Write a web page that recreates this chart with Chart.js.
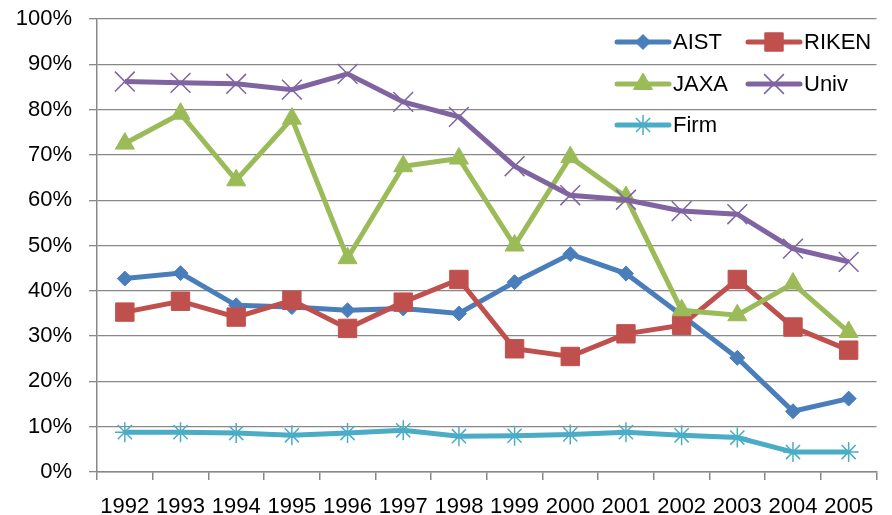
<!DOCTYPE html>
<html>
<head>
<meta charset="utf-8">
<script src="https://cdn.jsdelivr.net/npm/chart.js@4/dist/chart.umd.min.js"></script>
<style>
  html, body { margin: 0; padding: 0; background: #ffffff; }
  #wrap { width: 892px; height: 515px; }
</style>
</head>
<body>
<div id="wrap"><canvas id="chart" width="892" height="515"></canvas></div>
<script>
// Share of each organisation type, percent per year
const years = ['1992','1993','1994','1995','1996','1997','1998','1999','2000','2001','2002','2003','2004','2005'];
const aist  = [42.7, 43.9, 36.8, 36.4, 35.7, 36.1, 35.0, 41.9, 48.1, 43.8, 34.6, 25.2, 13.4, 16.2];
const riken = [35.3, 37.7, 34.2, 37.9, 31.7, 37.5, 42.5, 27.2, 25.5, 30.5, 32.4, 42.5, 32.0, 26.9];
const jaxa  = [72.5, 79.1, 64.4, 78.0, 47.2, 67.5, 69.2, 50.0, 69.5, 60.7, 35.7, 34.6, 41.6, 30.9];
const univ  = [86.2, 85.9, 85.7, 84.4, 87.9, 81.7, 78.4, 67.5, 61.1, 60.1, 57.6, 56.9, 49.3, 46.4];
const firm  = [8.8, 8.8, 8.6, 8.1, 8.6, 9.2, 7.9, 8.0, 8.3, 8.8, 8.1, 7.6, 4.4, 4.4];
const seriesNames = ['AIST', 'RIKEN', 'JAXA', 'Univ', 'Firm'];

const FONT = "'Liberation Sans', Arial, sans-serif";
const FONT_SIZE = 22;
const GRID = '#888888';

Chart.defaults.font.family = FONT;
Chart.defaults.font.size = FONT_SIZE;
Chart.defaults.color = '#000000';

function series(label, data, color, style, radius, order, markerLine) {
  return {
    label, data, order,
    borderColor: color,
    backgroundColor: color,
    borderWidth: 5,
    pointStyle: style,
    pointRadius: radius,
    pointHoverRadius: radius,
    pointBackgroundColor: color,
    pointBorderColor: color,
    pointBorderWidth: markerLine,
    tension: 0,
    fill: false
  };
}

const datasets = [
  series(seriesNames[0], aist,  '#4A7EBB', 'rectRot',  7.5, 5, 1),
  series(seriesNames[1], riken, '#C0504D', 'rect',     13, 4, 1),
  series(seriesNames[2], jaxa,  '#9BBB59', 'triangle', 11, 3, 1),
  series(seriesNames[3], univ,  '#8064A2', 'crossRot', 14, 2, 1.5),
  series(seriesNames[4], firm,  '#4BACC6', 'star',     10, 1, 1.5)
];

// Two-column key drawn inside the plot, top right
const keyLayout = { cols: [617, 748], rows: [42, 84, 125], lineLen: 52, textGap: 4 };
const keyPlugin = {
  id: 'key',
  afterDraw(chart) {
    const ctx = chart.ctx;
    ctx.save();
    chart.data.datasets.forEach((ds, i) => {
      const x = keyLayout.cols[i % 2];
      const y = keyLayout.rows[Math.floor(i / 2)];
      ctx.strokeStyle = ds.borderColor;
      ctx.lineWidth = ds.borderWidth;
      ctx.lineCap = 'round';
      ctx.beginPath();
      ctx.moveTo(x, y);
      ctx.lineTo(x + keyLayout.lineLen, y);
      ctx.stroke();
      ctx.fillStyle = ds.pointBackgroundColor;
      ctx.strokeStyle = ds.pointBorderColor;
      ctx.lineWidth = ds.pointBorderWidth;
      ctx.lineCap = 'butt';
      Chart.helpers.drawPoint(ctx, {
        pointStyle: ds.pointStyle,
        rotation: 0,
        radius: ds.pointRadius,
        borderWidth: ds.pointBorderWidth
      }, x + keyLayout.lineLen / 2, y);
      ctx.fillStyle = '#000000';
      ctx.font = FONT_SIZE + 'px ' + FONT;
      ctx.textBaseline = 'middle';
      ctx.textAlign = 'left';
      ctx.fillText(ds.label, x + keyLayout.lineLen + keyLayout.textGap, y + 1);
    });
    ctx.restore();
  }
};

new Chart(document.getElementById('chart'), {
  type: 'line',
  data: { labels: years, datasets },
  plugins: [keyPlugin],
  options: {
    responsive: false,
    animation: false,
    layout: { padding: { top: 19, right: 9, left: 0, bottom: 0 } },
    plugins: { legend: { display: false }, tooltip: { enabled: false } },
    scales: {
      x: {
        offset: true,
        afterFit(scale) { scale.height = 43; scale.paddingLeft = 0; scale.paddingRight = 0; },
        grid: { offset: true, drawOnChartArea: false, drawTicks: true, tickLength: 8, color: GRID, lineWidth: 1.5 },
        border: { display: true, color: GRID, width: 1.5 },
        ticks: { padding: 14, maxRotation: 0, autoSkip: false, color: '#000000' }
      },
      y: {
        min: 0,
        max: 100,
        afterFit(scale) { scale.width = 97; scale.paddingTop = 0; scale.paddingBottom = 0; },
        grid: { color: GRID, lineWidth: 1.3, tickLength: 8 },
        border: { display: true, color: GRID, width: 1.5 },
        ticks: { stepSize: 10, padding: 17, color: '#000000', callback: v => v + '%' }
      }
    }
  }
});
</script>
</body>
</html>
